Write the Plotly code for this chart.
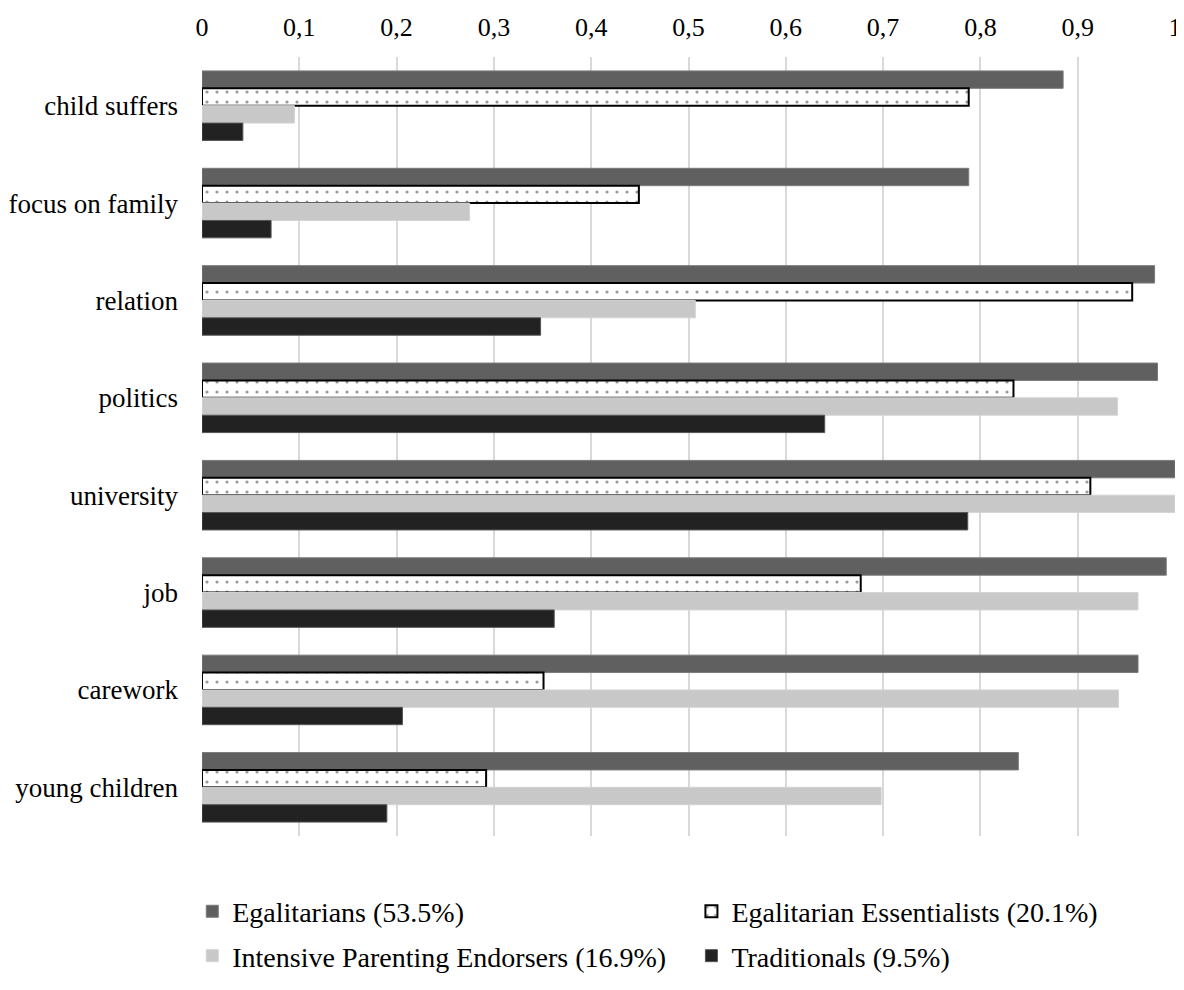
import plotly.graph_objects as go

categories = ["child suffers", "focus on family", "relation", "politics",
              "university", "job", "carework", "young children"]

egalitarians = [0.885, 0.788, 0.979, 0.982, 1.000, 0.991, 0.962, 0.839]
egal_essentialists = [0.788, 0.449, 0.956, 0.834, 0.913, 0.677, 0.351, 0.292]
intensive_parenting = [0.095, 0.275, 0.507, 0.941, 1.000, 0.962, 0.942, 0.698]
traditionals = [0.042, 0.071, 0.348, 0.640, 0.787, 0.362, 0.206, 0.190]

series_names = ["Egalitarians (53.5%)", "Egalitarian Essentialists (20.1%)",
                "Intensive Parenting Endorsers (16.9%)", "Traditionals (9.5%)"]

tick_vals = [0, 0.1, 0.2, 0.3, 0.4, 0.5, 0.6, 0.7, 0.8, 0.9, 1]
tick_text = ["0", "0,1", "0,2", "0,3", "0,4", "0,5", "0,6", "0,7", "0,8", "0,9", "1"]

FONT = "Liberation Serif"

fig = go.Figure()
fig.add_trace(go.Bar(
    y=categories, x=egalitarians, orientation="h", name=series_names[0],
    marker=dict(color="#606060", line=dict(color="#7a7a7a", width=1)),
    legend="legend"))
fig.add_trace(go.Bar(
    y=categories, x=egal_essentialists, orientation="h", name=series_names[1],
    marker=dict(color="white", line=dict(color="black", width=2),
                pattern=dict(shape=".", fgcolor="#333333", bgcolor="white",
                             size=10, solidity=0.08)),
    legend="legend2"))
fig.add_trace(go.Bar(
    y=categories, x=intensive_parenting, orientation="h", name=series_names[2],
    marker=dict(color="#c8c8c8", line=dict(color="#d4d4d4", width=1)),
    legend="legend3"))
fig.add_trace(go.Bar(
    y=categories, x=traditionals, orientation="h", name=series_names[3],
    marker=dict(color="#222222", line=dict(color="#555555", width=1)),
    legend="legend4"))

def leg(x, y):
    return dict(orientation="h", x=x, xanchor="left", y=y, yanchor="middle",
                itemwidth=30, font=dict(family=FONT, size=28, color="black"),
                bgcolor="rgba(0,0,0,0)")

# page has an 8px body margin: figure is sized/offset to compensate
fig.update_layout(
    width=1176, height=982,
    margin=dict(l=194, r=9, t=49, b=148),
    paper_bgcolor="white", plot_bgcolor="white",
    font=dict(family=FONT, size=26, color="black"),
    barmode="group", bargap=0.286, bargroupgap=0,
    showlegend=True,
    legend=leg(-0.010, -0.097),
    legend2=leg(0.503, -0.097),
    legend3=leg(-0.010, -0.154),
    legend4=leg(0.503, -0.154),
)

fig.update_xaxes(
    side="top", range=[0, 1], tickvals=tick_vals, ticktext=tick_text,
    showgrid=True, gridcolor="#d9d9d9", gridwidth=2, automargin=False,
    zeroline=False, showline=False, ticks="", ticklabelstandoff=15,
    tickfont=dict(family=FONT, size=26, color="black"), fixedrange=True)
fig.update_yaxes(
    autorange="reversed", showgrid=False, zeroline=False, showline=False,
    ticks="", ticklabelstandoff=23, automargin=False,
    tickfont=dict(family=FONT, size=27, color="black"), fixedrange=True)

fig.write_html("out.html")
